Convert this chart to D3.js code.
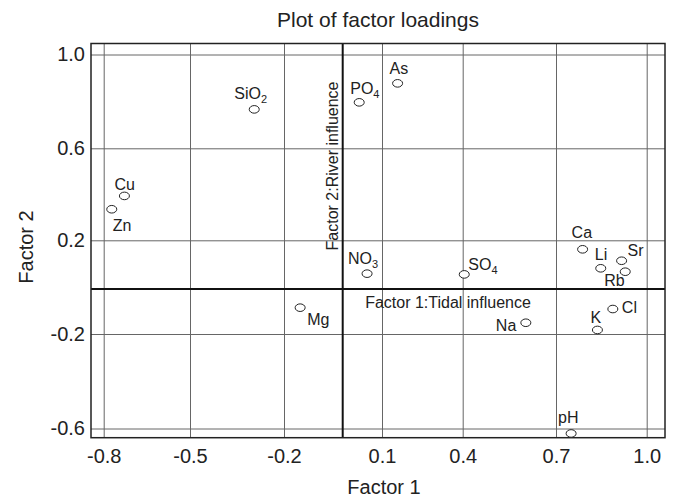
<!DOCTYPE html>
<html>
<head>
<meta charset="utf-8">
<style>
  body { margin: 0; background: #fff; }
  svg { display: block; font-family: "Liberation Sans", Arial, Helvetica, sans-serif; }
</style>
</head>
<body>
<svg width="673" height="500"></svg>
<script src="https://d3js.org/d3.v7.min.js"></script>
<script>

// variables shown on the factor loading plot
const names = ["SiO2", "Cu", "Zn", "PO4", "As", "NO3", "SO4", "Mg", "Na",
               "Ca", "Li", "Sr", "Rb", "Cl", "K", "pH"];
const factor1 = [-0.295, -0.728, -0.772, 0.042, 0.158, 0.062, 0.405, -0.145, 0.603,
                 0.788, 0.848, 0.917, 0.929, 0.888, 0.837, 0.75];
const factor2 = [0.766, 0.393, 0.335, 0.796, 0.877, 0.063, 0.06, -0.083, -0.15,
                 0.163, 0.085, 0.116, 0.071, -0.089, -0.182, -0.621];

const xTicks = [-0.8, -0.5, -0.2, 0.1, 0.4, 0.7, 1.0];
const yTicks = [1.0, 0.6, 0.2, -0.2, -0.6];

// label placement relative to each marker (layout only)
const labelPos = {
  SiO2: [-20, -10], Cu: [-10, -6], Zn: [1, 22], PO4: [-9, -8], As: [-8, -9],
  NO3: [-19, -10], SO4: [4, -4], Mg: [7, 17], Na: [-30, 8], Ca: [-11, -11],
  Li: [-6, -8], Sr: [6, -5], Rb: [-21, 14], Cl: [9, 4], K: [-7, -7], pH: [-13, -10]
};

const frame = { left: 91, right: 665, top: 43.5, bottom: 437.7 };

const svg = d3.select("svg");
const ink = "#222";

// the published axes are not evenly spaced, so map each tick to where it sits
const x = d3.scaleLinear()
  .domain([-0.8, -0.5, -0.2, 0, 0.1, 0.4, 0.7, 1.0])
  .range([103.7, 190, 284, 342.7, 382, 462.7, 556, 646.7]);
const y = d3.scaleLinear()
  .domain([1.0, 0.6, 0.2, 0, -0.2, -0.6])
  .range([54.5, 148.3, 240.3, 289, 334, 428.5]);

const fmt = d => d.toFixed(1);

// x grid + labels
const gx = svg.append("g")
  .attr("transform", "translate(0," + frame.bottom + ")")
  .call(d3.axisBottom(x)
    .tickValues(xTicks)
    .tickFormat(fmt)
    .tickSize(-(frame.bottom - frame.top))
    .tickPadding(11.5));
gx.select(".domain").remove();
gx.selectAll(".tick line").attr("stroke", "#666").attr("stroke-width", 1);
gx.selectAll(".tick text").attr("font-size", 20).attr("fill", ink)
  .attr("font-family", null);

// y grid + labels
const gy = svg.append("g")
  .attr("transform", "translate(" + frame.left + ",0)")
  .call(d3.axisLeft(y)
    .tickValues(yTicks)
    .tickFormat(fmt)
    .tickSize(-(frame.right - frame.left))
    .tickPadding(6));
gy.select(".domain").remove();
gy.selectAll(".tick line").attr("stroke", "#666").attr("stroke-width", 1);
gy.selectAll(".tick text").attr("font-size", 20).attr("fill", ink)
  .attr("font-family", null);

// zero lines
svg.append("line")
  .attr("x1", x(0)).attr("x2", x(0))
  .attr("y1", frame.top).attr("y2", frame.bottom)
  .attr("stroke", "#111").attr("stroke-width", 2);
svg.append("line")
  .attr("x1", frame.left).attr("x2", frame.right)
  .attr("y1", y(0)).attr("y2", y(0))
  .attr("stroke", "#111").attr("stroke-width", 2);

// frame
svg.append("rect")
  .attr("x", frame.left).attr("y", frame.top)
  .attr("width", frame.right - frame.left)
  .attr("height", frame.bottom - frame.top)
  .attr("fill", "none")
  .attr("stroke", ink)
  .attr("stroke-width", 1.5);

// axis influence captions
svg.append("text")
  .attr("transform", "translate(" + (x(0) - 5) + "," + 166 + ") rotate(-90)")
  .attr("text-anchor", "middle")
  .attr("font-size", 16)
  .attr("fill", ink)
  .text("Factor 2:River influence");
svg.append("text")
  .attr("x", 448)
  .attr("y", y(0) + 19)
  .attr("text-anchor", "middle")
  .attr("font-size", 16)
  .attr("fill", ink)
  .text("Factor 1:Tidal influence");

const points = names.map((n, i) => ({ name: n, f1: factor1[i], f2: factor2[i] }));

// markers
svg.append("g")
  .selectAll("ellipse")
  .data(points)
  .enter()
  .append("ellipse")
  .attr("cx", d => x(d.f1))
  .attr("cy", d => y(d.f2))
  .attr("rx", 5)
  .attr("ry", 3.8)
  .attr("fill", "#fff")
  .attr("stroke", ink)
  .attr("stroke-width", 1);

// labels, digits after a letter become subscripts
const labels = svg.append("g")
  .selectAll("text")
  .data(points)
  .enter()
  .append("text")
  .attr("x", d => x(d.f1) + labelPos[d.name][0])
  .attr("y", d => y(d.f2) + labelPos[d.name][1])
  .attr("font-size", 16)
  .attr("fill", ink);

labels.each(function(d) {
  const m = d.name.match(/^([A-Za-z]+)(\d*)$/);
  const t = d3.select(this);
  t.append("tspan").text(m[1]);
  if (m[2]) {
    t.append("tspan").attr("font-size", 11).attr("dy", 4).text(m[2]);
  }
});

// titles
svg.append("text")
  .attr("x", (frame.left + frame.right) / 2)
  .attr("y", 26.7)
  .attr("text-anchor", "middle")
  .attr("font-size", 21)
  .attr("fill", ink)
  .text("Plot of factor loadings");

svg.append("text")
  .attr("x", 384)
  .attr("y", 494)
  .attr("text-anchor", "middle")
  .attr("font-size", 20)
  .attr("fill", ink)
  .text("Factor 1");

svg.append("text")
  .attr("transform", "translate(33,247) rotate(-90)")
  .attr("text-anchor", "middle")
  .attr("font-size", 20)
  .attr("fill", ink)
  .text("Factor 2");

</script>
</body>
</html>
